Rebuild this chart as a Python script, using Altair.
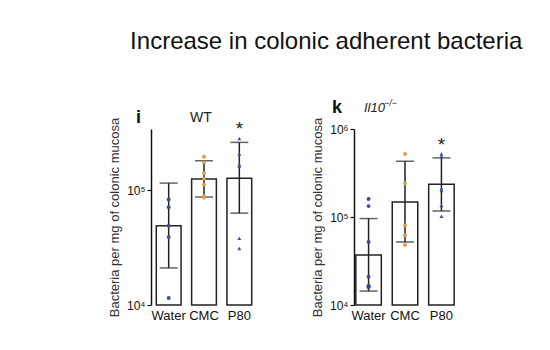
import altair as alt
import pandas as pd

groups = ["Water", "CMC", "P80"]

# WT panel (i)
wt_mean = [4.9e4, 1.25e5, 1.27e5]
wt_lo = [2.1e4, 8.7e4, 6.3e4]
wt_hi = [1.15e5, 1.8e5, 2.6e5]
wt_water = [8.3e4, 7.1e4, 4.9e4, 3.9e4, 1.15e4]
wt_cmc = [1.95e5, 1.74e5, 1.4e5, 1.26e5, 1.12e5, 8.9e4, 8.6e4]
wt_p80 = [2.8e5, 2.06e5, 1.66e5, 1.62e5, 3.8e4, 3.1e4]

# Il10-/- panel (k)
ko_mean = [3.7e4, 1.48e5, 2.35e5]
ko_lo = [1.44e4, 5.2e4, 1.17e5]
ko_hi = [9.6e4, 4.3e5, 4.7e5]
ko_water = [1.6e5, 1.33e5, 5.2e4, 2.1e4, 1.65e4, 1.6e4, 1.6e4, 1.65e4]
ko_cmc = [5.2e5, 2.4e5, 8.0e4, 6.2e4, 4.8e4]
ko_p80 = [5.2e5, 4.9e5, 2.1e5, 2.0e5, 1.35e5, 1.02e5]

FONT = "Liberation Sans"
BLUE = "#3b4a9c"
ORANGE = "#e39a4c"


def panel(mean, lo, hi, pts, ymax, ticks, letter, label_parts, width, pad_outer):
    summ = pd.DataFrame({"group": groups, "mean": mean, "lo": lo, "hi": hi,
                         "star": ["", "", "*"]})
    rows = []
    for g, vals in zip(groups, pts):
        for v in vals:
            rows.append({"group": g, "value": v})
    pdf = pd.DataFrame(rows)

    x = alt.X("group:N", sort=groups, title=None,
              scale=alt.Scale(paddingInner=0.3, paddingOuter=pad_outer),
              axis=alt.Axis(domain=False, ticks=False, labelAngle=0,
                            labelFontSize=13, labelColor="#111",
                            labelFont=FONT, labelPadding=4))
    yscale = alt.Scale(type="log", domain=[1e4, ymax], nice=False)
    y = alt.Y("mean:Q", scale=yscale,
              title="Bacteria per mg of colonic mucosa",
              axis=alt.Axis(values=ticks, grid=False, domainColor="#111",
                            domainWidth=1.5, tickColor="#111", tickWidth=1.2,
                            tickSize=4, labelFontSize=12, labelFont=FONT,
                            labelColor="#111",
                            labelExpr="'10' + (datum.value==10000 ? '⁴' : datum.value==100000 ? '⁵' : '⁶')",
                            titleFont=FONT, titleFontSize=13,
                            titleFontWeight="normal", titleColor="#333",
                            titlePadding=5))

    base = alt.Chart(summ)
    bars = base.mark_bar(fill="white", stroke="#222", strokeWidth=1.5).encode(
        x=x, y=y, y2=alt.datum(1e4))
    err = base.mark_rule(color="#222", strokeWidth=1.5).encode(
        x=alt.X("group:N", sort=groups), y=alt.Y("lo:Q", scale=yscale), y2="hi:Q")
    cap_hi = base.mark_tick(color="#222", thickness=1.5, size=18).encode(
        x=alt.X("group:N", sort=groups), y=alt.Y("hi:Q", scale=yscale))
    cap_lo = base.mark_tick(color="#222", thickness=1.5, size=18).encode(
        x=alt.X("group:N", sort=groups), y=alt.Y("lo:Q", scale=yscale))
    star = base.mark_text(fontSize=19, font=FONT, color="#222", dy=-13,
                          baseline="middle").encode(
        x=alt.X("group:N", sort=groups), y=alt.Y("hi:Q", scale=yscale),
        text="star:N")

    points = alt.Chart(pdf).mark_point(filled=True, size=15, opacity=1).encode(
        x=alt.X("group:N", sort=groups),
        y=alt.Y("value:Q", scale=yscale),
        color=alt.Color("group:N", sort=groups,
                        scale=alt.Scale(domain=groups, range=[BLUE, ORANGE, BLUE]),
                        legend=None),
        shape=alt.Shape("group:N", sort=groups,
                        scale=alt.Scale(domain=groups,
                                        range=["circle", "circle", "triangle-up"]),
                        legend=None))

    lx, ly = (-15, -11) if letter == "i" else (-22, -21)
    letter_t = alt.Chart(pd.DataFrame({"t": [letter]})).mark_text(
        font=FONT, fontSize=18, fontWeight="bold", align="left",
        baseline="middle", color="#111").encode(
        text="t:N", x=alt.value(lx), y=alt.value(ly))
    layers = [bars, err, cap_hi, cap_lo, points, star, letter_t]
    for txt, xx, yy, fs in label_parts:
        layers.append(alt.Chart(pd.DataFrame({"t": [txt]})).mark_text(
            font=FONT, fontSize=fs, fontStyle="italic" if letter == "k" else "normal",
            align="left", baseline="middle", color="#222").encode(
            text="t:N", x=alt.value(xx), y=alt.value(yy)))
    return alt.layer(*layers).properties(width=width, height=176)


left = panel(wt_mean, wt_lo, wt_hi, [wt_water, wt_cmc, wt_p80], 3.4e5,
             [1e4, 1e5], "i", [("WT", 39, -11, 14)], 106, 0.15)
right = panel(ko_mean, ko_lo, ko_hi, [ko_water, ko_cmc, ko_p80], 1e6,
              [1e4, 1e5, 1e6], "k",
              [("Il10", 10, -21, 13), ("−/−", 30, -26, 9)], 102, 0.05)

chart = alt.hconcat(left, right, spacing=54).properties(
    title=alt.TitleParams("Increase in colonic adherent bacteria", font=FONT,
                          fontSize=24, fontWeight="normal", color="#111",
                          anchor="middle", dx=44, offset=45),
    padding={"left": 108, "top": 30, "right": 5, "bottom": 5},
).configure_view(stroke=None).configure_concat(spacing=54)

chart.save("out.html", embed_options={"renderer": "svg", "actions": False})
